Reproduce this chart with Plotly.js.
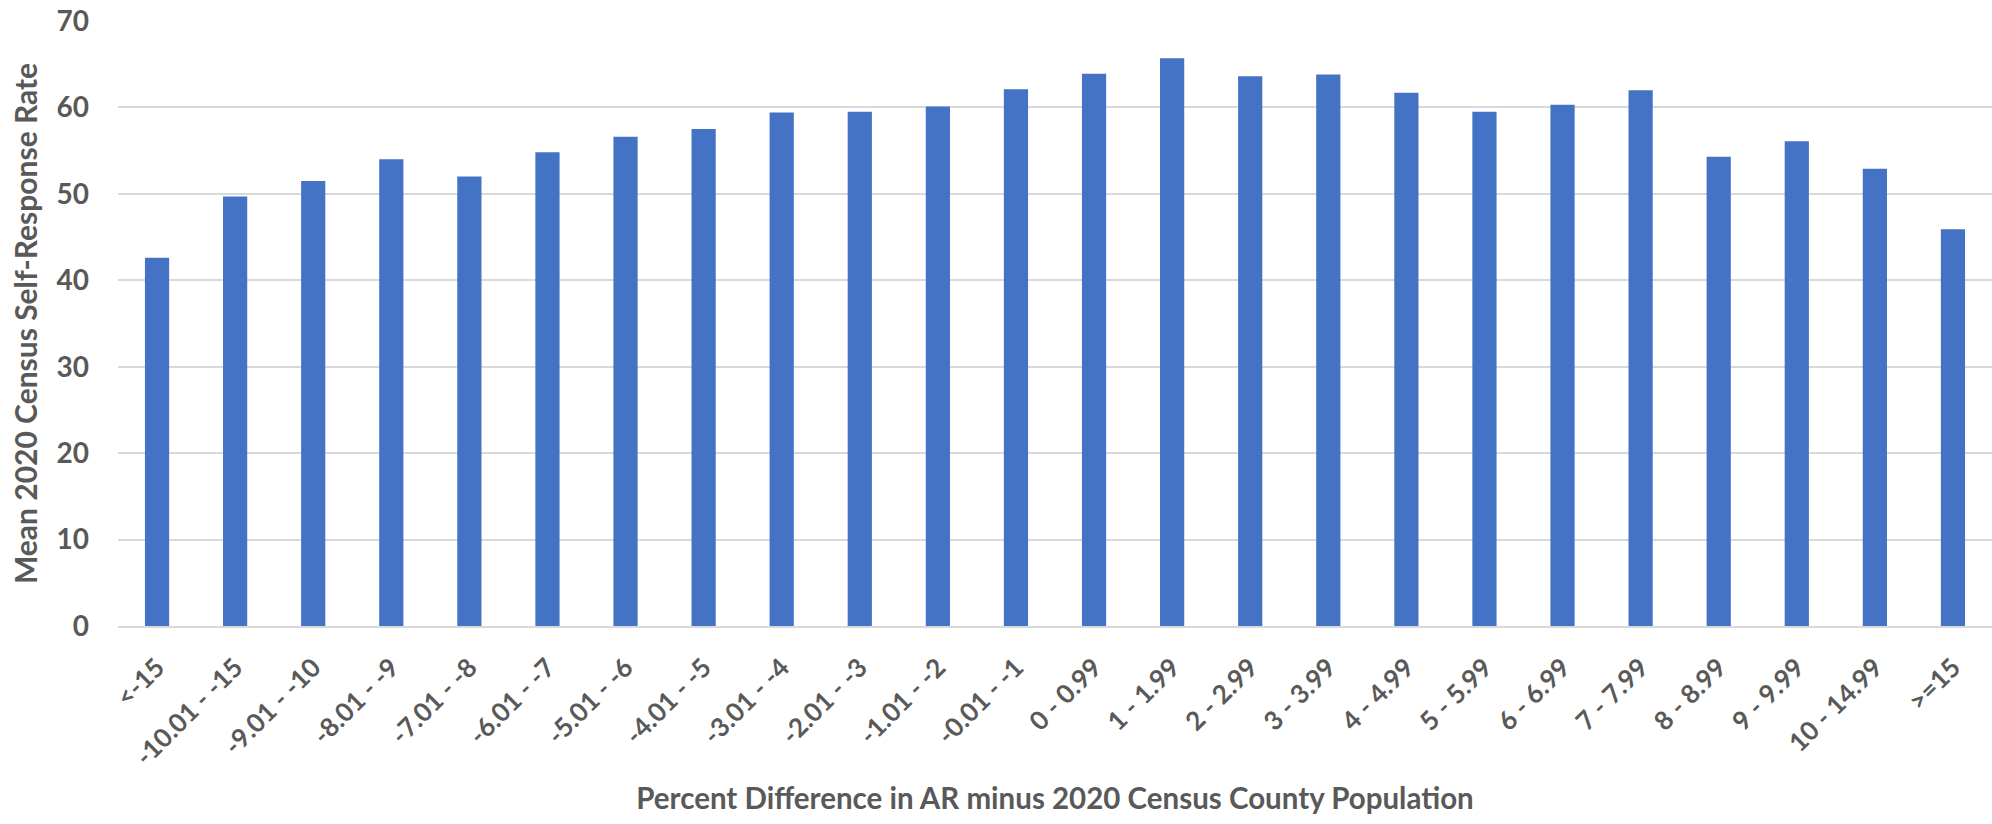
<!DOCTYPE html>
<html>
<head>
<meta charset="utf-8">
<script src="https://cdn.plot.ly/plotly-3.0.1.min.js"></script>
<style>html,body{margin:0;padding:0;background:#fff;}#chart{width:1992px;height:824px;}</style>
</head>
<body>
<div id="chart"></div>
<script>
const categories = ["<-15","-10.01 - -15","-9.01 - -10","-8.01 - -9","-7.01 - -8","-6.01 - -7","-5.01 - -6","-4.01 - -5","-3.01 - -4","-2.01 - -3","-1.01 - -2","-0.01 - -1","0 - 0.99","1 - 1.99","2 - 2.99","3 - 3.99","4 - 4.99","5 - 5.99","6 - 6.99","7 - 7.99","8 - 8.99","9 - 9.99","10 - 14.99",">=15"];
const meanSelfResponse = [42.6,49.7,51.5,54.0,52.0,54.8,56.6,57.5,59.4,59.5,60.1,62.1,63.9,65.7,63.6,63.8,61.7,59.5,60.3,62.0,54.3,56.1,52.9,45.9];
const yTicks = [0,10,20,30,40,50,60,70];
const xTitle = "Percent Difference in AR minus 2020 Census County Population";
const yTitle = "Mean 2020 Census Self-Response Rate";

const FONT = "Lato, 'Open Sans', sans-serif";
const TXT = "#595959";

Plotly.newPlot("chart", [{
  type: "bar",
  x: categories,
  y: meanSelfResponse,
  marker: {color: "#4472C4"},
  hoverinfo: "x+y"
}], {
  width: 1992, height: 824,
  margin: {l: 118, r: 0, t: 21, b: 198},
  paper_bgcolor: "#fff", plot_bgcolor: "#fff",
  bargap: 0.69,
  showlegend: false,
  font: {family: FONT, color: TXT},
  xaxis: {
    type: "category",
    tickangle: -45,
    tickfont: {family: FONT, size: 26, color: TXT, weight: "bold"},
    ticks: "",
    ticklabelstandoff: 14,
    showgrid: false,
    showline: true, linecolor: "#D9D9D9", linewidth: 2,
    zeroline: false,
    automargin: false,
    title: {text: "<b>" + xTitle + "</b>", font: {family: FONT, size: 29.5, color: TXT}, standoff: 18}
  },
  yaxis: {
    range: [0, 70],
    tickvals: yTicks,
    ticktext: yTicks.map(String),
    tickfont: {family: FONT, size: 28, color: TXT, weight: "bold"},
    ticks: "",
    ticklabelstandoff: 28,
    showgrid: true, gridcolor: "#D9D9D9", gridwidth: 2,
    zeroline: false, showline: false,
    automargin: false,
    title: {text: "<b>" + yTitle + "</b>", font: {family: FONT, size: 30, color: TXT}, standoff: 10}
  }
}, {displayModeBar: false, staticPlot: true});
</script>
</body>
</html>
